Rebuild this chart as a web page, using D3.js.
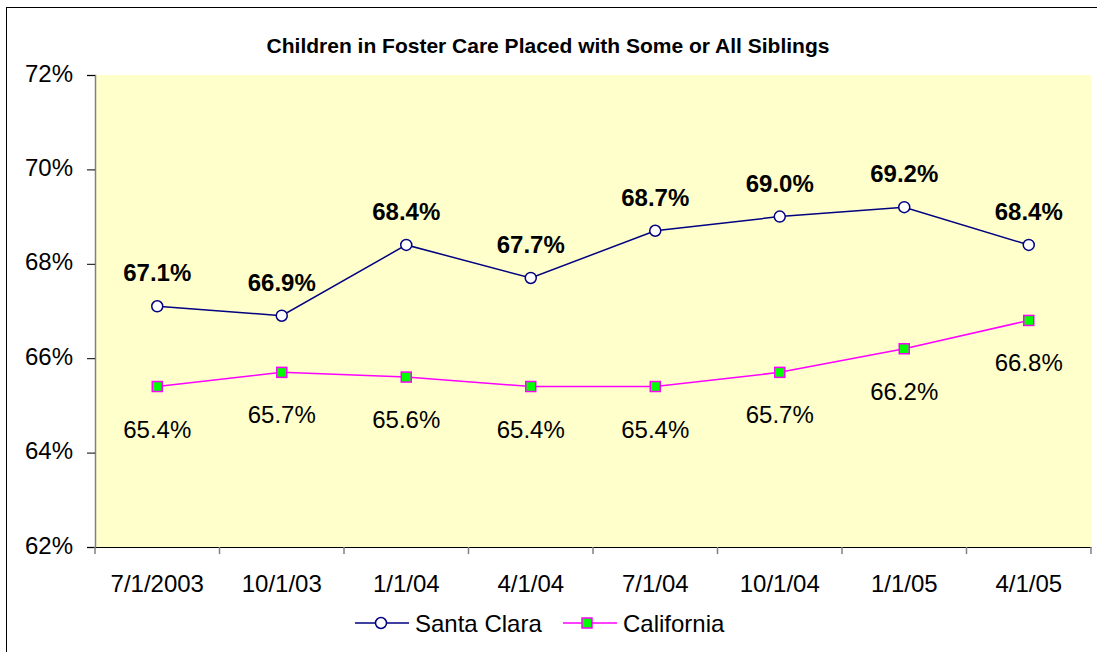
<!DOCTYPE html>
<html>
<head>
<meta charset="utf-8">
<script src="https://cdn.jsdelivr.net/npm/d3@7"></script>
<style>
  body { margin: 0; background: #fff; }
  text { font-family: Arial, "Liberation Sans", sans-serif; }
</style>
</head>
<body>
<div id="chart"></div>
<script>
// data
var dates = ["7/1/2003", "10/1/03", "1/1/04", "4/1/04", "7/1/04", "10/1/04", "1/1/05", "4/1/05"];
var santaClara = [67.1, 66.9, 68.4, 67.7, 68.7, 69.0, 69.2, 68.4];
var california = [65.4, 65.7, 65.6, 65.4, 65.4, 65.7, 66.2, 66.8];
var yTicks = [62, 64, 66, 68, 70, 72];

var W = 1097, H = 652;
var margin = { top: 75, right: 6, bottom: 105, left: 95 },
  width = W - margin.left - margin.right,
  height = H - margin.top - margin.bottom;

var root = d3.select("#chart").append("svg")
  .attr("width", W)
  .attr("height", H);

// outer chart frame (right and bottom edges fall outside the picture)
root.append("rect")
  .attr("x", 6.5).attr("y", 7.5)
  .attr("width", 1200).attr("height", 800)
  .attr("fill", "#fff")
  .attr("stroke", "#000")
  .attr("stroke-width", 1);

root.append("text")
  .attr("x", 548)
  .attr("y", 53)
  .attr("text-anchor", "middle")
  .style("font-size", "21px")
  .style("font-weight", "bold")
  .text("Children in Foster Care Placed with Some or All Siblings");

var svg = root.append("g")
  .attr("transform", "translate(" + margin.left + "," + margin.top + ")");

var x = d3.scaleBand().domain(dates).range([0, width]);
var y = d3.scaleLinear().domain([62, 72]).range([height, 0]);

// plot area
svg.append("rect")
  .attr("width", width).attr("height", height)
  .attr("fill", "#FFFFCC");

// y axis
var yAxis = svg.append("g")
  .call(d3.axisLeft(y).tickValues(yTicks).tickSize(8).tickPadding(14)
    .tickFormat(function (d) { return d + "%"; }));
yAxis.select(".domain").attr("stroke", "#808080").attr("stroke-width", 1.5);
yAxis.selectAll(".tick line").attr("stroke", "#000");
yAxis.selectAll("text").style("font-size", "24px").attr("fill", "#000").attr("dy", "0.25em");

// x axis, ticks between categories
var xAxis = svg.append("g")
  .attr("transform", "translate(0," + height + ")")
  .call(d3.axisBottom(x).tickSize(0).tickPadding(28));
xAxis.select(".domain").attr("stroke", "#000");
xAxis.selectAll("text").style("font-size", "24px").attr("fill", "#000");
svg.append("g")
  .selectAll("line")
  .data(d3.range(dates.length + 1))
  .enter().append("line")
  .attr("x1", function (i) { return i * x.step(); })
  .attr("x2", function (i) { return i * x.step(); })
  .attr("y1", height)
  .attr("y2", height + 7)
  .attr("stroke", "#808080")
  .attr("stroke-width", 1.5);

var cx = function (d, i) { return x(dates[i]) + x.bandwidth() / 2; };
var line = d3.line()
  .x(function (d, i) { return cx(d, i); })
  .y(function (d) { return y(d); });

// California
svg.append("path")
  .datum(california)
  .attr("fill", "none")
  .attr("stroke", "#FF00FF")
  .attr("stroke-width", 1.5)
  .attr("d", line);
svg.selectAll(".caMark")
  .data(california)
  .enter().append("rect")
  .attr("class", "caMark")
  .attr("x", function (d, i) { return cx(d, i) - 5; })
  .attr("y", function (d) { return y(d) - 5; })
  .attr("width", 10).attr("height", 10)
  .attr("fill", "#00FF00")
  .attr("stroke", "#FF00FF")
  .attr("stroke-width", 1.5);
svg.selectAll(".caLabel")
  .data(california)
  .enter().append("text")
  .attr("class", "caLabel")
  .attr("x", cx)
  .attr("y", function (d) { return y(d) + 51; })
  .attr("text-anchor", "middle")
  .style("font-size", "24px")
  .text(function (d) { return d.toFixed(1) + "%"; });

// Santa Clara
svg.append("path")
  .datum(santaClara)
  .attr("fill", "none")
  .attr("stroke", "#000080")
  .attr("stroke-width", 1.5)
  .attr("d", line);
svg.selectAll(".scMark")
  .data(santaClara)
  .enter().append("circle")
  .attr("class", "scMark")
  .attr("cx", cx)
  .attr("cy", function (d) { return y(d); })
  .attr("r", 5.5)
  .attr("fill", "#fff")
  .attr("stroke", "#000080")
  .attr("stroke-width", 1.5);
svg.selectAll(".scLabel")
  .data(santaClara)
  .enter().append("text")
  .attr("class", "scLabel")
  .attr("x", cx)
  .attr("y", function (d) { return y(d) - 25; })
  .attr("text-anchor", "middle")
  .style("font-size", "24px")
  .style("font-weight", "bold")
  .text(function (d) { return d.toFixed(1) + "%"; });

// legend
var legend = root.append("g").attr("transform", "translate(0,623)");
var items = [
  { name: "Santa Clara", x: 355, color: "#000080", mark: "circle" },
  { name: "California", x: 563, color: "#FF00FF", mark: "rect" }
];
items.forEach(function (it) {
  legend.append("line")
    .attr("x1", it.x).attr("x2", it.x + 54)
    .attr("y1", 0).attr("y2", 0)
    .attr("stroke", it.color).attr("stroke-width", 1.5);
  if (it.mark == "circle") {
    legend.append("circle")
      .attr("cx", it.x + 26).attr("cy", 0).attr("r", 5.5)
      .attr("fill", "#fff").attr("stroke", it.color).attr("stroke-width", 1.5);
  } else {
    legend.append("rect")
      .attr("x", it.x + 19).attr("y", -5).attr("width", 10).attr("height", 10)
      .attr("fill", "#00FF00").attr("stroke", it.color).attr("stroke-width", 1.5);
  }
  legend.append("text")
    .attr("x", it.x + 60).attr("y", 8.5)
    .style("font-size", "24px")
    .text(it.name);
});
</script>
</body>
</html>
